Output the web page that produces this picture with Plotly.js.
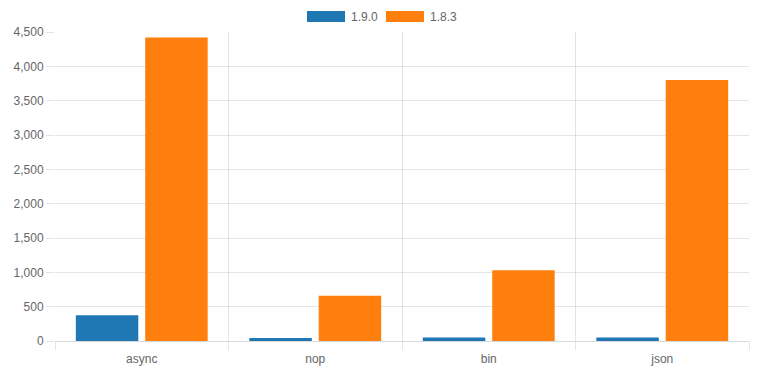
<!DOCTYPE html>
<html>
<head>
<meta charset="utf-8">
<script src="https://cdn.plot.ly/plotly-3.0.1.min.js"></script>
<style>
html,body{margin:0;padding:0;background:#fff;}
#chart{width:767px;height:383px;}
</style>
</head>
<body>
<div id="chart"></div>
<script>
var categories = ["async", "nop", "bin", "json"];
var seriesNames = ["1.9.0", "1.8.3"];
var values190 = [375, 44, 52, 52];
var values183 = [4420, 660, 1030, 3800];
var colors = ["#1f77b4", "#ff7f0e"];
var yTicks = [0, 500, 1000, 1500, 2000, 2500, 3000, 3500, 4000, 4500];

var font = {family: "Liberation Sans, Arial, Helvetica, sans-serif", size: 12, color: "#666"};
var grid = "rgba(0,0,0,0.1)";

var traces = [values190, values183].map(function(v, i){
  return {
    type: "bar",
    x: categories,
    y: v,
    name: seriesNames[i],
    marker: {color: colors[i], line: {width: 0}},
    hoverinfo: "x+y+name"
  };
});

var layout = {
  width: 767, height: 383,
  margin: {l: 55, r: 18, t: 32, b: 42},
  paper_bgcolor: "#fff", plot_bgcolor: "#fff",
  font: font,
  showlegend: false,
  barmode: "group",
  bargap: 0.2,
  bargroupgap: 0.1,
  xaxis: {
    type: "category",
    tickson: "boundaries",
    showgrid: true, gridcolor: grid, gridwidth: 1,
    ticks: "outside", ticklen: 8, tickcolor: grid,
    ticklabelstandoff: 7,
    showline: true, linecolor: "rgba(0,0,0,0.15)", linewidth: 1,
    zeroline: false,
    tickfont: font,
    fixedrange: true
  },
  yaxis: {
    range: [0, 4500],
    tickvals: yTicks,
    ticktext: yTicks.map(function(t){ return t.toLocaleString("en-US"); }),
    showgrid: true, gridcolor: grid, gridwidth: 1,
    ticks: "outside", ticklen: 8, tickcolor: grid,
    zeroline: false, showline: false,
    tickfont: font,
    fixedrange: true
  },
  shapes: [
    {type: "rect", xref: "paper", yref: "paper", x0: 0.3631, x1: 0.4179, y0: 1.0324, y1: 1.068, fillcolor: colors[0], line: {width: 0}},
    {type: "rect", xref: "paper", yref: "paper", x0: 0.4769, x1: 0.5317, y0: 1.0324, y1: 1.068, fillcolor: colors[1], line: {width: 0}}
  ],
  annotations: [
    {xref: "paper", yref: "paper", x: 0.4236, y: 1.050, xanchor: "left", yanchor: "middle", text: seriesNames[0], showarrow: false, font: font},
    {xref: "paper", yref: "paper", x: 0.5375, y: 1.050, xanchor: "left", yanchor: "middle", text: seriesNames[1], showarrow: false, font: font}
  ]
};

Plotly.newPlot("chart", traces, layout, {displayModeBar: false, responsive: false});
</script>
</body>
</html>
